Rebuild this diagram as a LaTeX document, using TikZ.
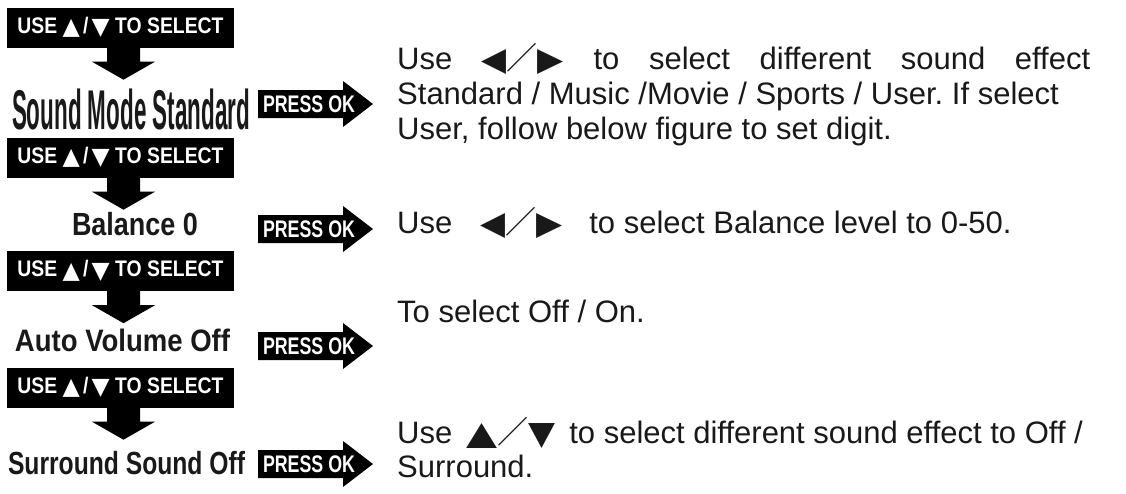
\documentclass[tikz,border=0pt]{standalone}
\usepackage{fontspec}
\usepackage{graphicx}
\setmainfont{Liberation Sans}
\newfontfamily\symf{DejaVu Sans}
\newfontfamily\cjk{Noto Sans CJK SC}
\frenchspacing
\newcommand\wfit[2]{\resizebox{#1}{\height}{#2}}
\newcommand\glyphbox[3]{\resizebox*{#2}{#3}{\symf #1}}
\newcommand\selt{\wfit{206pt}{\bfseries\fontsize{22.5}{22}\selectfont USE \raisebox{-1.5pt}{\glyphbox{▲}{20pt}{18pt}}\,/\,\raisebox{-1.5pt}{\glyphbox{▼}{21pt}{18pt}} TO SELECT}}
\newcommand\LT{\raisebox{-1.5pt}{\glyphbox{◀}{25pt}{25pt}}}
\newcommand\RT{\raisebox{-1.5pt}{\glyphbox{▶}{26pt}{25pt}}}
\newcommand\UT{\raisebox{-1.5pt}{\glyphbox{▲}{31pt}{25pt}}}
\newcommand\DT{\raisebox{-1.5pt}{\glyphbox{▼}{27pt}{25pt}}}
\newcommand\SL{{\cjk ／}}
\newcommand\okarrow[2]{%
  \fill (258,#2-14) -- (343,#2-14) -- (343,#2-23) -- (373,#2) -- (343,#2+23) -- (343,#2+14) -- (258,#2+14) -- cycle;
  \node[oklbl] (#1) at (309,#2+8.5) {\wfit{92pt}{\fontsize{24}{24}\selectfont PRESS OK}};}
\begin{document}
\begin{tikzpicture}[x=1pt,y=-1pt,
  selbox/.style={fill=black, text=white, minimum width=227pt, minimum height=40pt, inner sep=0pt},
  modelbl/.style={anchor=base, inner sep=0pt, font=\bfseries, text=black!90},
  oklbl/.style={anchor=base, inner sep=0pt, font=\bfseries, text=white},
  rtext/.style={anchor=base west, inner sep=0pt, font=\fontsize{31}{35}\selectfont, text=black!90}]
\useasboundingbox[fill=white] (0,0) rectangle (1126,493);
% select boxes
\node[selbox] (s1) at (120.5,27.5) {\selt};
\node[selbox] (s2) at (120.5,157.5) {\selt};
\node[selbox] (s3) at (120.5,271) {\selt};
\node[selbox] (s4) at (120.5,387.5) {\selt};
\foreach \s in {s1,s2,s3,s4}{
  \fill ([xshift=3pt]\s.south) ++(-16.5,0) -- ++(0,14) -- ++(-15,0) -- ++(31.5,18) -- ++(31.5,-18) -- ++(-15,0) -- ++(0,-14) -- cycle;
}
% mode labels
\node[modelbl] (m1) at (131,129) {\wfit{238pt}{\fontsize{56}{56}\selectfont Sound Mode Standard}};
\node[modelbl] (m2) at (135,235) {\wfit{126pt}{\fontsize{32}{32}\selectfont Balance 0}};
\node[modelbl] (m3) at (122.5,351) {\wfit{215pt}{\fontsize{31}{31}\selectfont Auto Volume Off}};
\node[modelbl] (m4) at (126.5,474) {\wfit{237pt}{\fontsize{32}{32}\selectfont Surround Sound Off}};
% press ok arrows
\okarrow{ok1}{104}
\okarrow{ok2}{229}
\okarrow{ok3}{346}
\okarrow{ok4}{464}
% descriptions
\node[rtext] (t1a) at (397,69) {\hbox to 693pt{Use\hfill\LT\SL\RT\hfill to\hfill select\hfill different\hfill sound\hfill effect}};
\node[rtext] (t1b) at (397,104) {Standard / Music /Movie / Sports / User. If select};
\node[rtext] (t1c) at (397,139) {User, follow below figure to set digit.};
\node[rtext] (t2) at (397,233) {Use\hspace{28pt}\LT\SL\RT\hspace{27pt}to select Balance level to 0-50.};
\node[rtext] (t3) at (397,322) {To select Off / On.};
\node[rtext] (t4a) at (397,443) {Use\hspace{14pt}\UT\SL\DT\hspace{14pt}to select different sound effect to Off /};
\node[rtext] (t4b) at (397,477) {Surround.};
\end{tikzpicture}
\end{document}
